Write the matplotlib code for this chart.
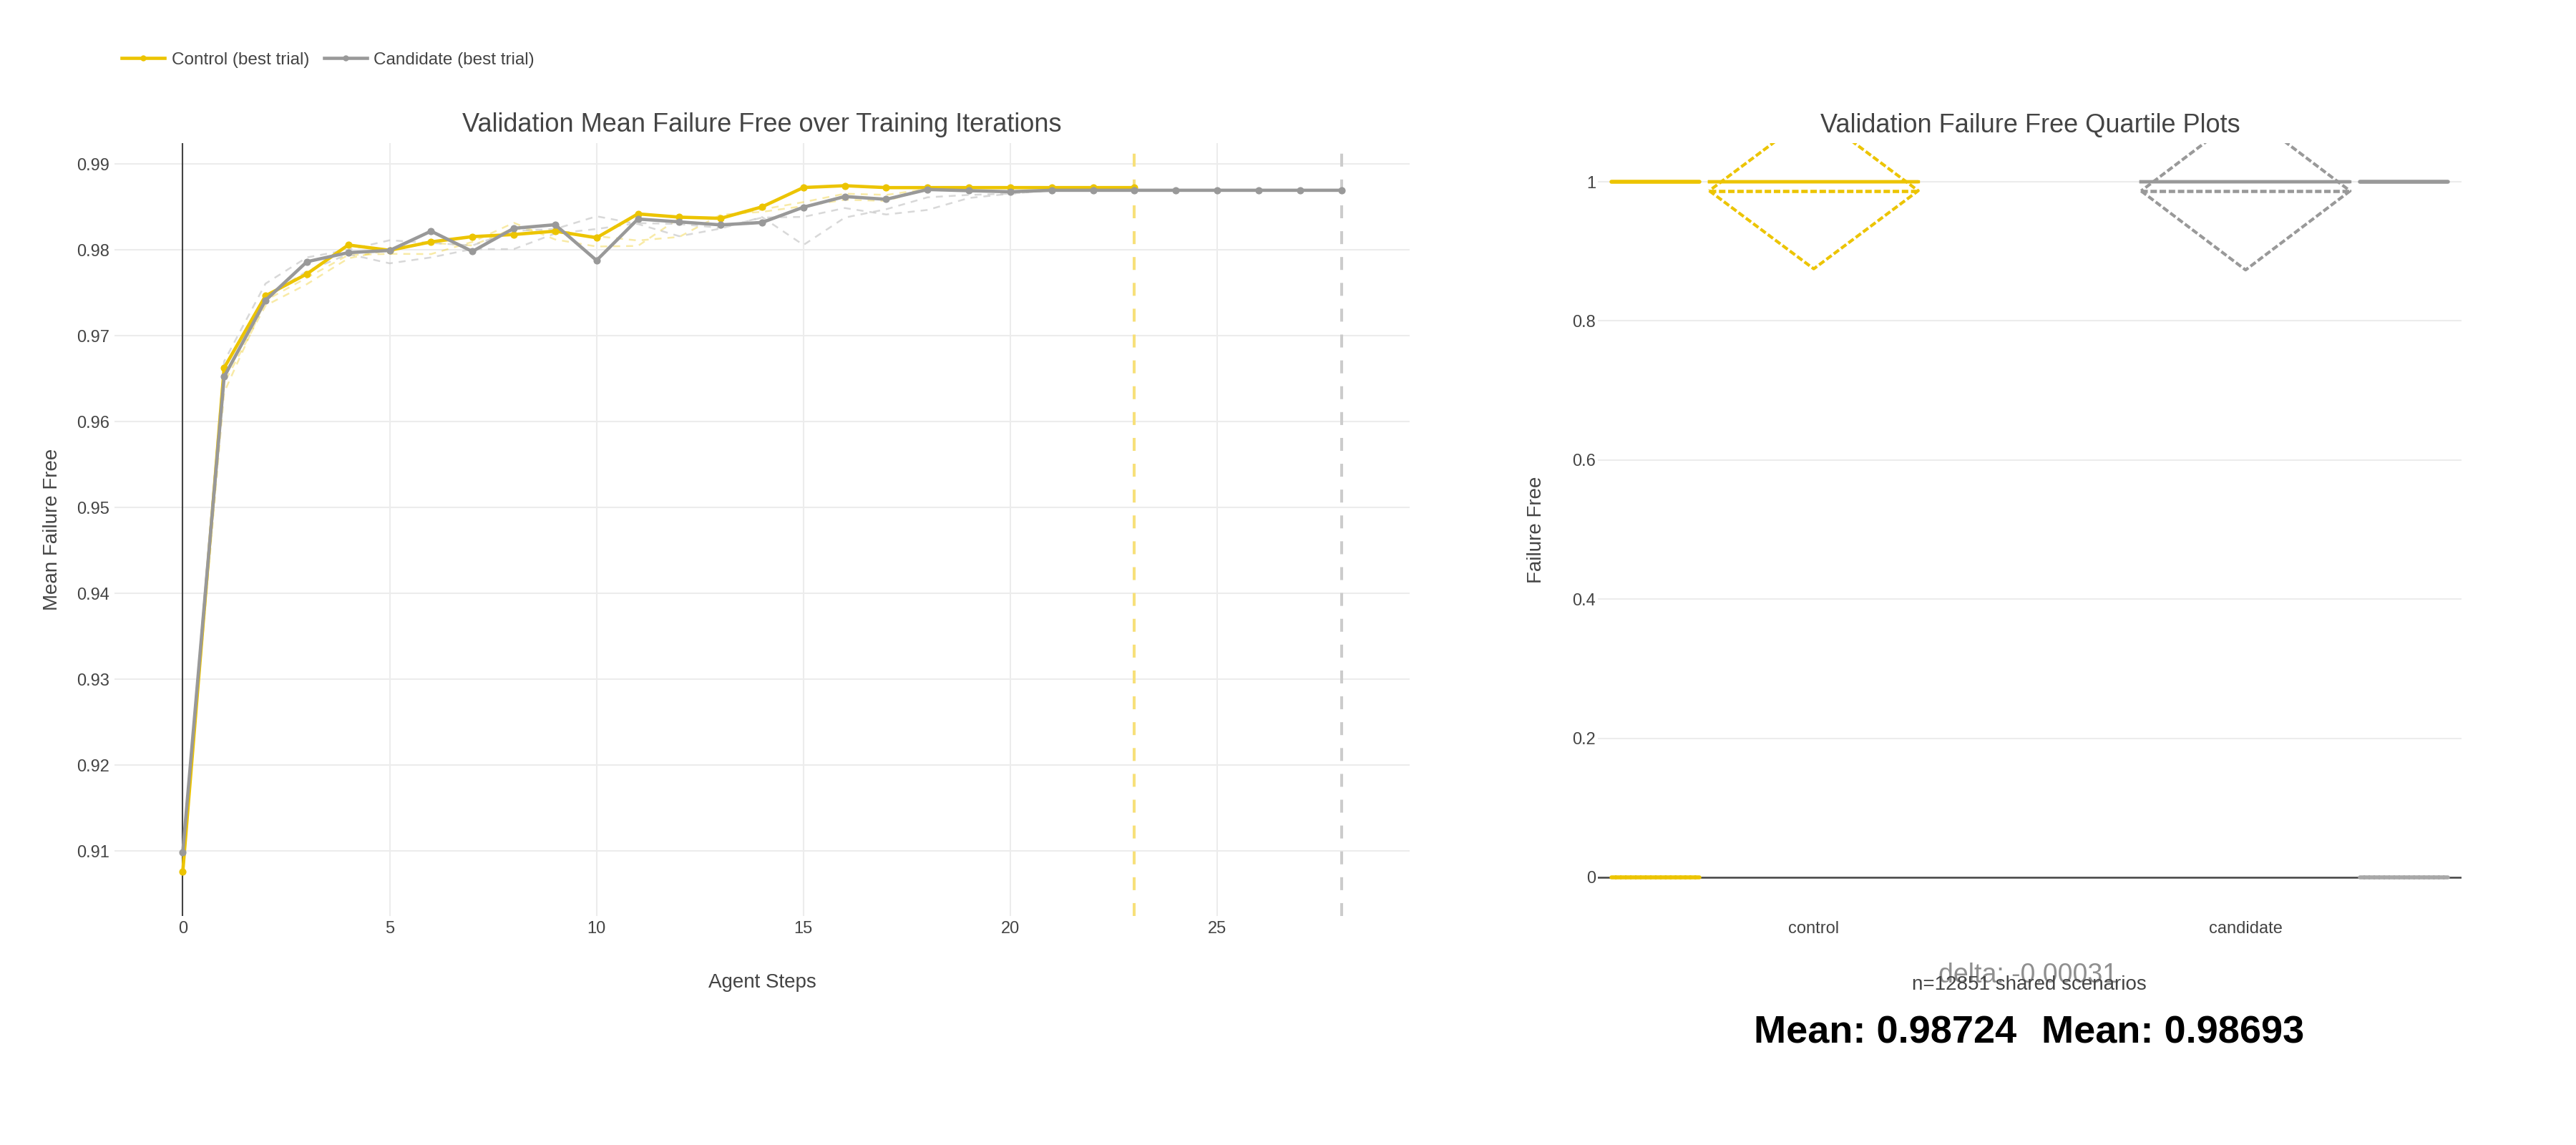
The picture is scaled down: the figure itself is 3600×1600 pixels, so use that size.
import matplotlib
matplotlib.use('Agg')
import matplotlib.pyplot as plt
from matplotlib.lines import Line2D
import numpy as np

plt.rcParams['font.family'] = ['Liberation Sans', 'DejaVu Sans']
plt.rcParams['lines.scale_dashes'] = False

# Data - left panel (best trials and other trials)
control_steps = list(range(0, 24))
control_best = [0.90755, 0.96625, 0.97464, 0.97719, 0.98056, 0.97994, 0.98092, 0.98153,
                0.98178, 0.98217, 0.98140, 0.98418, 0.98380, 0.98366, 0.98500, 0.98725,
                0.98746, 0.98724, 0.98724, 0.98724, 0.98724, 0.98724, 0.98724, 0.98724]
candidate_steps = list(range(0, 29))
candidate_best = [0.90984, 0.96522, 0.97411, 0.97861, 0.97967, 0.97992, 0.98217, 0.97981,
                  0.98250, 0.98292, 0.97876, 0.98358, 0.98325, 0.98290, 0.98318, 0.98496,
                  0.98620, 0.98588, 0.98702, 0.98688, 0.98676, 0.98693, 0.98693, 0.98693,
                  0.98693, 0.98693, 0.98693, 0.98693, 0.98693]

other_steps = list(range(0, 21))
control_trial_a = [0.9085, 0.9634, 0.97411, 0.97675, 0.97939, 0.97953, 0.97950, 0.98092,
                   0.98314, 0.98120, 0.98038, 0.98045, 0.98370, 0.98375, 0.98470, 0.98555,
                   0.98653, 0.98639, 0.98708, 0.98720, 0.98724]
control_trial_b = [0.9080, 0.9645, 0.97350, 0.97600, 0.97900, 0.98000, 0.98080, 0.98050,
                   0.98250, 0.98186, 0.98158, 0.98108, 0.98150, 0.98408, 0.98442, 0.98508,
                   0.98583, 0.98569, 0.98708, 0.98720, 0.98724]
other_steps_cand = list(range(0, 22))
candidate_trial_a = [0.9095, 0.9670, 0.97606, 0.97911, 0.98000, 0.98111, 0.98080, 0.98050,
                     0.98220, 0.98242, 0.98390, 0.98300, 0.98158, 0.98247, 0.98381, 0.98056,
                     0.98375, 0.98472, 0.98611, 0.98639, 0.98653, 0.98694]
candidate_trial_b = [0.9100, 0.9650, 0.97450, 0.97750, 0.97950, 0.97842, 0.97911, 0.98008,
                     0.98008, 0.98190, 0.98242, 0.98311, 0.98300, 0.98256, 0.98375, 0.98383,
                     0.98486, 0.98411, 0.98464, 0.98603, 0.98653, 0.98694]

# Data - right panel (box stats per group)
groups = ['control', 'candidate']
box_q1 = [1, 1]
box_median = [1, 1]
box_q3 = [1, 1]
box_mean = [0.98724, 0.98693]
box_sd = [0.1123, 0.1136]
point_levels = [0, 1]
n_shared = 12851
delta = -0.00031

yellow = '#ecc400'
gray = '#999999'
text_col = '#444444'

W, H = 3600, 1600
fig = plt.figure(figsize=(36, 16), dpi=100)

# ---------- left panel ----------
ax1 = fig.add_axes([160 / W, 1 - 1280 / H, 1810 / W, 1080 / H])
ax1.set_xlim(-1.65, 29.65)
ax1.set_ylim(0.90242, 0.99242)
for s in ax1.spines.values():
    s.set_visible(False)
ax1.set_xticks([0, 5, 10, 15, 20, 25])
yt = [0.91, 0.92, 0.93, 0.94, 0.95, 0.96, 0.97, 0.98, 0.99]
ax1.set_yticks(yt)
ax1.set_yticklabels([f'{v:.2f}' for v in yt])
ax1.tick_params(length=0, labelsize=17, labelcolor=text_col, pad=5)
ax1.grid(color='#ececec', lw=1.5)
ax1.set_axisbelow(True)
ax1.axvline(0, color=text_col, lw=1.5, zorder=1)

ax1.plot(other_steps, control_trial_a, color=yellow, alpha=0.35, lw=1.8, dashes=(7, 6), zorder=2)
ax1.plot(other_steps, control_trial_b, color=yellow, alpha=0.35, lw=1.8, dashes=(7, 6), zorder=2)
ax1.plot(other_steps_cand, candidate_trial_a, color='#c8c8c8', alpha=0.7, lw=1.8, dashes=(7, 6), zorder=2)
ax1.plot(other_steps_cand, candidate_trial_b, color='#c8c8c8', alpha=0.7, lw=1.8, dashes=(7, 6), zorder=2)

ax1.axvline(control_steps[-1], color='#f7e07a', lw=2.9, dashes=(13, 13), zorder=2.5)
ax1.axvline(candidate_steps[-1], color='#cccccc', lw=2.9, dashes=(13, 13), zorder=2.5)

ax1.plot(control_steps, control_best, color=yellow, lw=3.3, marker='o', ms=6.3, zorder=3)
ax1.plot(candidate_steps, candidate_best, color=gray, lw=3.3, marker='o', ms=6.3, zorder=4)

fig.text(1065 / W, 1 - 175 / H, 'Validation Mean Failure Free over Training Iterations',
         ha='center', va='center', fontsize=26, color=text_col)
fig.text(1065 / W, 1 - 1373 / H, 'Agent Steps', ha='center', va='center', fontsize=20, color=text_col)
fig.text(73 / W, 1 - 740 / H, 'Mean Failure Free', ha='center', va='center', rotation=90,
         fontsize=20, color=text_col)

# legend
handles = [Line2D([], [], color=yellow, lw=3.3, marker='o', ms=5),
           Line2D([], [], color=gray, lw=3.3, marker='o', ms=5)]
fig.legend(handles, ['Control (best trial)', 'Candidate (best trial)'], loc='center left',
           bbox_to_anchor=(170 / W, 1 - 84 / H), ncol=2, frameon=False, fontsize=17.5,
           handlelength=2.46, handletextpad=0.4, columnspacing=0.86, borderpad=0,
           borderaxespad=0, labelcolor=text_col)

# ---------- right panel ----------
ax2 = fig.add_axes([2233 / W, 1 - 1280 / H, 1207 / W, 1080 / H])
ax2.set_xlim(-0.5, 1.5)
ax2.set_ylim(-0.0557, 1.0557)
for s in ax2.spines.values():
    s.set_visible(False)
ax2.set_yticks([0, 0.2, 0.4, 0.6, 0.8, 1])
ax2.set_yticklabels(['0', '0.2', '0.4', '0.6', '0.8', '1'])
ax2.set_xticks(range(len(groups)))
ax2.set_xticklabels(groups)
ax2.tick_params(axis='y', length=0, labelsize=17, labelcolor=text_col, pad=2)
ax2.tick_params(axis='x', length=0, labelsize=17, labelcolor=text_col, pad=5)
ax2.grid(axis='y', color='#ececec', lw=1.5)
ax2.set_axisbelow(True)
ax2.axhline(0, color=text_col, lw=1.8, zorder=1.5)

box_half = 0.242
point_offset = [-0.366, 0.366]
point_half = 0.102
colors = [yellow, gray]
zero_colors = [yellow, '#a8a8a8']
for i, g in enumerate(groups):
    c = i
    col = colors[i]
    # box (degenerate: q1 = median = q3)
    ax2.plot([c - box_half, c + box_half, c + box_half, c - box_half, c - box_half],
             [box_q1[i], box_q1[i], box_q3[i], box_q3[i], box_q1[i]], color=col, lw=3.1, zorder=3)
    ax2.plot([c - box_half, c + box_half], [box_median[i], box_median[i]], color=col, lw=3.1, zorder=3)
    # mean and sd diamond
    m, sd = box_mean[i], box_sd[i]
    ax2.plot([c - box_half, c + box_half], [m, m], color=col, lw=3.3, dashes=(6.5, 2.7), zorder=3)
    ax2.plot([c - box_half, c, c + box_half, c, c - box_half], [m, m - sd, m, m + sd, m],
             color=col, lw=3.0, dashes=(6.5, 2.7), zorder=3)
    # points (all values are 0 or 1)
    px = [c + point_offset[i] - point_half, c + point_offset[i] + point_half]
    ax2.plot(px, [point_levels[1]] * 2, color=col, lw=4.0, solid_capstyle='round', zorder=4)
    ax2.plot(px, [point_levels[0]] * 2, color=zero_colors[i], lw=4.0, dashes=(4, 1),
             dash_capstyle='round', zorder=4)

fig.text(2837 / W, 1 - 175 / H, 'Validation Failure Free Quartile Plots',
         ha='center', va='center', fontsize=26, color=text_col)
fig.text(2147 / W, 1 - 740 / H, 'Failure Free', ha='center', va='center', rotation=90,
         fontsize=20, color=text_col)
fig.text(2834 / W, 1 - 1373 / H, f'delta: {delta:.5f}', ha='center', va='baseline',
         fontsize=27, color='#8f8f8f')
fig.text(2836 / W, 1 - 1383 / H, f'n={n_shared} shared scenarios', ha='center', va='baseline',
         fontsize=20, color=text_col)
fig.text(2635 / W, 1 - 1458 / H, f'Mean: {box_mean[0]:.5f}', ha='center', va='baseline',
         fontsize=39, fontweight='bold', color='black')
fig.text(3037 / W, 1 - 1458 / H, f'Mean: {box_mean[1]:.5f}', ha='center', va='baseline',
         fontsize=39, fontweight='bold', color='black')

fig.savefig('out.png', dpi=100, facecolor='white')
